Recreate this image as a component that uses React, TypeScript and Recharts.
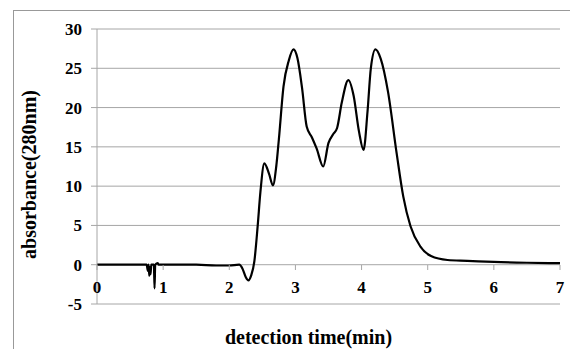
import React from "react";
import { LineChart, Line, XAxis, YAxis, CartesianGrid } from "recharts";

// Cromatograma: absorbancia a 280 nm frente al tiempo de detección.
const TIME = [
  0, 0.5, 0.75, 0.77, 0.78, 0.79, 0.8, 0.81, 0.82, 0.86, 0.87, 0.88, 0.92, 0.93,
  1.2, 1.5, 1.8, 2.0, 2.15, 2.2, 2.25, 2.29, 2.33, 2.38, 2.43, 2.47, 2.53, 2.6,
  2.66, 2.71, 2.75, 2.82, 2.9, 2.97, 3.03, 3.1, 3.17, 3.25, 3.32, 3.42, 3.5, 3.57,
  3.63, 3.7, 3.8, 3.88, 3.96, 4.03, 4.09, 4.14, 4.21, 4.29, 4.4, 4.53, 4.63, 4.74,
  4.89, 5.05, 5.3, 5.6, 6, 6.5, 7,
];
const ABS = [
  0, 0, 0, -0.8, 0, -1.4, -0.3, -1.2, 0, 0, -3.0, 0, 0.2, 0,
  0, 0, -0.1, -0.1, 0, -0.5, -1.6, -2.0, -1.4, 0.5, 5, 9.2, 12.9, 11.6,
  10.1, 12.5, 16, 22.7, 26, 27.4, 26.3, 22.5, 17.6, 16.2, 14.8, 12.5, 15.5, 16.6,
  17.4, 20.6, 23.5, 21.5, 17, 14.6, 19.5, 25, 27.4, 26.2, 22, 14.2, 8.7, 4.9,
  2.3, 1.1, 0.6, 0.5, 0.35, 0.25, 0.2,
];
const X_TICKS = [0, 1, 2, 3, 4, 5, 6, 7];
const Y_TICKS = [-5, 0, 5, 10, 15, 20, 25, 30];

const data = TIME.map((t, i) => ({ t, v: ABS[i] }));

const FONT = "'Liberation Serif', 'Times New Roman', serif";
const GRID = "#a6a6a6";

// El eje X se dibuja sobre la línea de 0 (39 px por encima del borde inferior).
const XTick = (props: any) => {
  const { x, y, payload } = props;
  return (
    <g>
      <line x1={x} x2={x} y1={y - 39} y2={y - 34} stroke={GRID} />
      <text x={x} y={y - 11} textAnchor="middle" fontFamily={FONT} fontWeight="bold" fontSize={17} fill="#000">
        {payload.value}
      </text>
    </g>
  );
};

export default function App() {
  return (
    <div style={{ position: "absolute", left: 0, top: 0, width: 570, height: 349, background: "#fff" }}>
      <div style={{ position: "absolute", left: 13, top: 10, width: 557, height: 339, borderTop: "1px solid #999", borderLeft: "1px solid #999" }} />
      <LineChart width={570} height={349} data={data} margin={{ top: 29, right: 10, left: 13, bottom: 0 }}>
        <CartesianGrid vertical={false} stroke={GRID} />
        <XAxis
          type="number" dataKey="t" domain={[0, 7]} ticks={X_TICKS} height={45}
          axisLine={false} tickLine={false} tickSize={0} tickMargin={0} tick={<XTick />}
          label={{ value: "detection time(min)", position: "insideBottom", offset: 5, dx: -20, style: { fontFamily: FONT, fontWeight: "bold", fontSize: 20, fill: "#000" } }}
        />
        <YAxis
          type="number" domain={[-5, 30]} ticks={Y_TICKS} width={84}
          axisLine={{ stroke: GRID }} tickLine={{ stroke: GRID }} tickSize={6} tickMargin={9}
          tick={{ fontFamily: FONT, fontWeight: "bold", fontSize: 17, fill: "#000" }}
          label={{ value: "absorbance(280nm)", angle: -90, position: "insideLeft", offset: 16, dy: 8, style: { fontFamily: FONT, fontWeight: "bold", fontSize: 20, fill: "#000", textAnchor: "middle" } }}
        />
        <Line type="monotone" dataKey="v" stroke="#000" strokeWidth={2.2} dot={false} isAnimationActive={false} />
      </LineChart>
    </div>
  );
}
